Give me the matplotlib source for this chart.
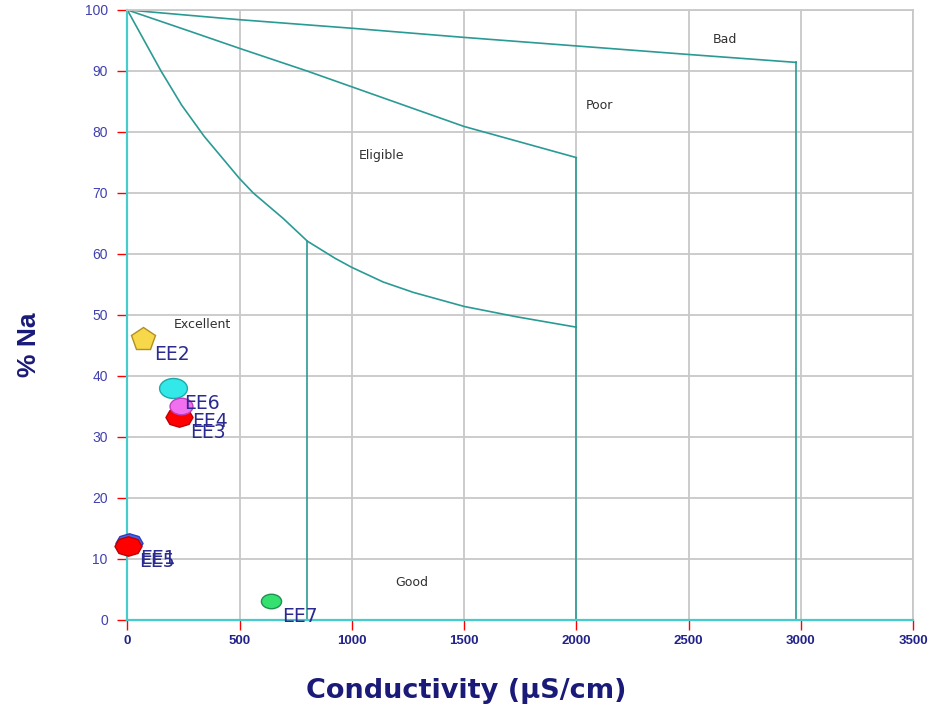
import matplotlib.pyplot as plt
from matplotlib.markers import MarkerStyle
from matplotlib.path import Path
from matplotlib.transforms import Affine2D

# Wilcox diagram: %Na against conductivity
# class boundaries (conductivity, %Na)
bad_x = [0, 500, 1000, 1500, 2000, 2500, 2980]
bad_y = [100, 98.4, 97.0, 95.5, 94.1, 92.7, 91.4]
poor_x = [0, 287, 500, 800, 1000, 1500, 2000]
poor_y = [100, 96.4, 93.7, 90.0, 87.4, 80.9, 75.8]
good_x = [0, 150, 242, 342, 499, 561, 695, 802, 925, 1000, 1140, 1274,
          1500, 1734, 2000]
good_y = [100, 90, 84.4, 79.3, 72.4, 70, 65.8, 62.1, 59.3, 57.8, 55.4, 53.7,
          51.4, 49.7, 48.0]

# samples
names = ['EE1', 'EE2', 'EE3', 'EE4', 'EE5', 'EE6', 'EE7']
cond = [6, 68, 232, 238, 4, 202, 639]
na = [12.6, 46.0, 33.3, 35.0, 12.1, 38.0, 3.1]
shapes = ['oct', 'pent', 'oct', 'ell', 'oct', 'ell', 'ell']
faces = ['#4466e8', '#f7d84a', '#ff0000', '#f070f0', '#ff0000', '#33e8e8', '#33e070']
edges = ['#2a40c0', '#b09020', '#c00000', '#c040c0', '#c00000', '#20a8a8', '#209050']
sizes = [19.5, 18, 19.5, 16.5, 19.5, 20, 14.5]

zones = ['Bad', 'Poor', 'Eligible', 'Excellent', 'Good']
zone_x = [2609, 2044, 1032, 208, 1192]
zone_y = [95.1, 84.3, 76.1, 48.4, 6.2]

# flattened symbols
squash = Affine2D().scale(1, 0.72)
sym = {
    'oct': MarkerStyle('8').get_path().transformed(squash),
    'ell': Path.unit_circle().transformed(squash),
    'pent': 'p',
}

line_c = '#2a9a94'
fig = plt.figure(figsize=(9.34, 7.10), dpi=100)
ax = fig.add_axes([0.1363, 0.1268, 0.8412, 0.8592])

ax.plot(bad_x, bad_y, color=line_c, lw=1.2)
ax.plot([bad_x[-1], bad_x[-1]], [bad_y[-1], 0], color=line_c, lw=1.2)
ax.plot(poor_x, poor_y, color=line_c, lw=1.2)
ax.plot([poor_x[-1], poor_x[-1]], [poor_y[-1], 0], color=line_c, lw=1.2)
ax.plot(good_x, good_y, color=line_c, lw=1.2)
ax.plot([800, 800], [62.1, 0], color=line_c, lw=1.2)

for i in range(len(zones)):
    ax.text(zone_x[i], zone_y[i], zones[i], fontsize=9, color='#303030',
            ha='left', va='center', family='DejaVu Sans')

# stacking order of the symbols, bottom first
order = [6, 1, 5, 2, 3, 0, 4]
for k, i in enumerate(order):
    ax.plot(cond[i], na[i], marker=sym[shapes[i]], ms=sizes[i], mfc=faces[i],
            mec=edges[i], mew=1, ls='none', zorder=5 + k, clip_on=False)
for k, i in enumerate(order):
    ax.annotate(names[i], (cond[i], na[i]), xytext=(8, -11),
                textcoords='offset points', ha='left', va='center',
                fontsize=13.5, color='#2a2a90', family='DejaVu Sans',
                zorder=20 + k)

ax.set_xlim(0, 3500)
ax.set_ylim(0, 100)
ax.set_xticks(range(0, 3501, 500))
ax.set_yticks(range(0, 101, 10))
ax.grid(True, color='#c8c8c8', lw=1.3)
ax.set_axisbelow(True)

for s in ['left', 'bottom']:
    ax.spines[s].set_color('#46cccc')
    ax.spines[s].set_linewidth(1.6)
for s in ['top', 'right']:
    ax.spines[s].set_color('#c8c8c8')
    ax.spines[s].set_linewidth(1.3)

ax.tick_params(axis='both', direction='out', color='red', length=7, width=1)
ax.tick_params(axis='y', labelsize=10, labelcolor='#4040b0', pad=7)
ax.tick_params(axis='x', labelsize=9.5, labelcolor='#22228a', pad=4)
for lab in ax.get_xticklabels():
    lab.set_fontweight('bold')
    lab.set_family('Liberation Sans')
for lab in ax.get_yticklabels():
    lab.set_family('Liberation Sans')

ax.set_xlabel('Conductivity (µS/cm)', fontsize=19.5, fontweight='bold',
              color='#1a1a78', family='DejaVu Sans')
ax.set_ylabel('% Na', fontsize=19, fontweight='bold', color='#1a1a78',
              family='Liberation Sans')
ax.xaxis.set_label_coords(0.431, -0.095)
ax.yaxis.set_label_coords(-0.110, 0.451)

fig.savefig('out.png', dpi=100)
